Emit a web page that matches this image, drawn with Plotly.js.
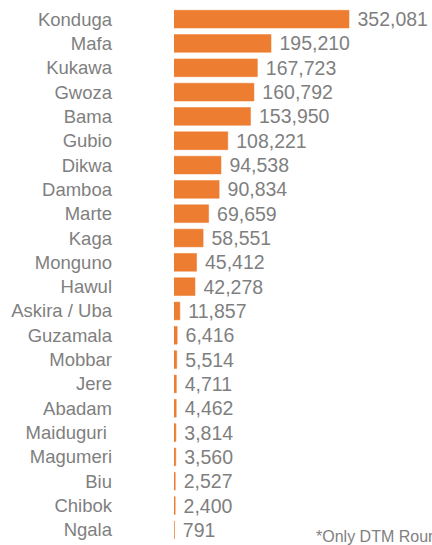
<!DOCTYPE html>
<html>
<head>
<meta charset="utf-8">
<script src="https://cdn.plot.ly/plotly-3.0.1.min.js"></script>
<style>html,body{margin:0;padding:0;background:#fff;}#chart{width:432px;height:545px;}</style>
</head>
<body>
<div id="chart"></div>
<script>
const lgas = ["Konduga","Mafa","Kukawa","Gwoza","Bama","Gubio","Dikwa","Damboa","Marte","Kaga","Monguno","Hawul","Askira / Uba","Guzamala","Mobbar","Jere","Abadam","Maiduguri\u00a0","Magumeri","Biu","Chibok","Ngala"];
const idps = [352081,195210,167723,160792,153950,108221,94538,90834,69659,58551,45412,42278,11857,6416,5514,4711,4462,3814,3560,2527,2400,791];
const footnote = "*Only DTM Round";

const grey = "#7f7f7f";
const trace = {
  type: "bar",
  orientation: "h",
  y: lgas,
  x: idps,
  marker: {color: "#ED7D31", line: {color: "#ED7D31", width: 0.5}},
  texttemplate: "\u00a0%{x:,}",
  textposition: "outside",
  constraintext: "none",
  cliponaxis: false,
  textfont: {family: "Liberation Sans, Arial, sans-serif", size: 19.5, color: grey},
  hoverinfo: "skip"
};
const layout = {
  width: 432, height: 545,
  margin: {l: 174, r: 0, t: 7, b: 3},
  paper_bgcolor: "#fff", plot_bgcolor: "#fff",
  showlegend: false,
  bargap: 0.27,
  font: {family: "Liberation Sans, Arial, sans-serif", color: grey},
  xaxis: {range: [0, 519000], visible: false, showgrid: false, zeroline: false},
  yaxis: {autorange: "reversed", type: "category", showline: false, showgrid: false, zeroline: false,
          ticks: "", ticklabelstandoff: 61, tickfont: {size: 18.5, color: grey}},
  annotations: [{
    text: footnote, xref: "paper", yref: "paper", x: (314-174)/258, y: 0.011,
    xanchor: "left", yanchor: "middle", showarrow: false,
    font: {size: 16, color: grey}
  }]
};
Plotly.newPlot("chart", [trace], layout, {staticPlot: true, displayModeBar: false});
</script>
</body>
</html>
